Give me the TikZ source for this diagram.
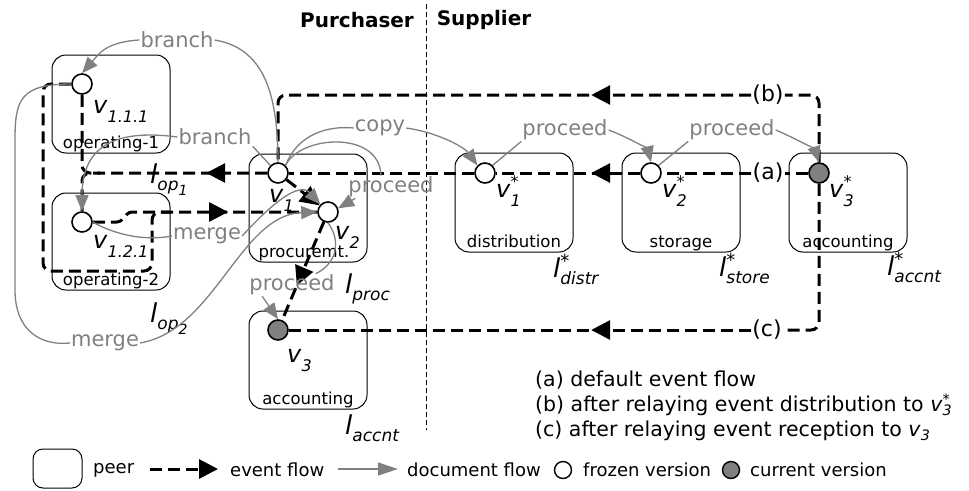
\documentclass[tikz,border=0pt]{standalone}
\usepackage{fontspec}
\setmainfont{DejaVu Sans}
\usetikzlibrary{arrows.meta,decorations.markings}

\newcommand{\scr}[2]{{\fontsize{#1}{#1}\selectfont\textit{#2}}}
\newcommand{\vlab}[3][16]{\textit{v}\rlap{\raisebox{0.4em}{\scr{#1}{#3}}}\raisebox{-0.38em}{\scr{#1}{#2}}}
\newcommand{\vnote}[2]{\textit{v}\rlap{\textsuperscript{\textit{#2}}}\textsubscript{\textit{#1}}}
\newcommand{\llab}[2]{\textit{l}\rlap{\raisebox{0.35em}{\scr{18}{#2}}}\raisebox{-0.3em}{\scr{17}{#1}}}

\begin{document}
\begin{tikzpicture}[x=1pt,y=-1pt,
 peer/.style={draw,rounded corners=14pt,line width=1pt,minimum width=118pt,minimum height=98pt},
 frozen/.style={circle,draw,fill=white,line width=1.6pt,minimum size=20pt,inner sep=0pt},
 current/.style={frozen,fill=gray},
 peerlab/.style={font=\fontsize{16.5}{16.5}\selectfont,inner sep=0pt,anchor=base},
 doclab/.style={text=gray,font=\fontsize{21}{21}\selectfont,inner sep=1pt},
 vlabel/.style={font=\fontsize{24}{24}\selectfont,inner sep=0pt,anchor=base west},
 llabel/.style={font=\fontsize{26}{26}\selectfont,inner sep=0pt,anchor=base west},
 flowlab/.style={font=\fontsize{22}{22}\selectfont,inner sep=1pt},
 notes/.style={font=\fontsize{20.5}{20.5}\selectfont,anchor=west,inner sep=0pt},
 legtext/.style={font=\fontsize{18}{18}\selectfont,anchor=west,inner sep=0pt},
 docline/.style={gray,line width=1.3pt},
 docflow/.style={docline,-{Triangle[length=16pt,width=13pt]}},
 evflow/.style={line width=3pt,dash pattern=on 12pt off 6pt,rounded corners=8pt},
 evtip/.tip={Triangle[length=19pt,width=19pt]},
 midtip/.style={postaction={decorate,decoration={markings,mark=at position #1 with {\arrow{evtip}}}}}]
\useasboundingbox (0,0) rectangle (969,490);
\node[font=\fontsize{20}{20}\selectfont\bfseries] (purch) at (357,20) {Purchaser};
\node[font=\fontsize{20}{20}\selectfont\bfseries] (supp) at (484,20) {Supplier};
\coordinate (dtop) at (426,4);
\coordinate (dbot) at (426,430);
\draw[line width=1pt,dash pattern=on 5pt off 3pt] (dtop) -- (dbot);

% peers
\node[peer] (op1) at (111,104) {};
\node[peer,minimum height=97pt] (op2) at (111,241.5) {};
\node[peer,minimum height=108pt] (proc) at (308,208) {};
\node[peer] (acc) at (308,360) {};
\node[peer,minimum height=99pt] (distr) at (514,202.5) {};
\node[peer,minimum height=99pt] (store) at (681,202.5) {};
\node[peer,minimum height=99pt] (accs) at (848,202.5) {};
\node[peerlab] (op1lab) at ([yshift=5pt]op1.south) {operating-1};
\node[peerlab] (op2lab) at ([yshift=5pt]op2.south) {operating-2};
\node[peerlab] (proclab) at ([xshift=-4pt,yshift=5pt]proc.south) {procuremt.};
\node[peerlab] (acclab) at ([yshift=5pt]acc.south) {accounting};
\node[peerlab] (distrlab) at ([yshift=5pt]distr.south) {distribution};
\node[peerlab] (storelab) at ([yshift=5pt]store.south) {storage};
\node[peerlab] (accslab) at ([yshift=5pt]accs.south) {accounting};
\node[llabel] (lop1) at (150,183) {\llab{op\raisebox{-0.3em}{\scr{14}{1}}}{}};
\node[llabel] (lop2) at (150,322) {\llab{op\raisebox{-0.3em}{\scr{14}{2}}}{}};
\node[llabel] (lproc) at (345,293) {\llab{proc}{}};
\node[llabel] (laccnt) at (345,434) {\llab{accnt}{}};
\node[llabel] (ldistr) at (553,277) {\llab{distr}{*}};
\node[llabel] (lstore) at (719,276) {\llab{store}{*}};
\node[llabel] (laccnts) at (887,275) {\llab{accnt}{*}};

% versions
\node[frozen] (v111) at (82,84) {};
\node[frozen] (v121) at (82,222) {};
\node[frozen] (v1) at (278,173) {};
\node[frozen] (v2) at (328,212) {};
\node[current] (v3) at (278,330) {};
\node[frozen] (v1s) at (485,173) {};
\node[frozen] (v2s) at (651,173) {};
\node[current] (v3s) at (819,173) {};
\node[vlabel] (v111t) at (93,113) {\vlab{1.1.1}{}};
\node[vlabel] (v121t) at (93,248) {\vlab{1.2.1}{}};
\node[vlabel] (v1t) at (269,202) {\vlab{1}{}};
\node[vlabel] (v2t) at (335,239) {\vlab{2}{}};
\node[vlabel] (v3t) at (287,362) {\vlab{3}{}};
\node[vlabel] (v1st) at (496,197) {\vlab{1}{*}};
\node[vlabel] (v2st) at (662,197) {\vlab{2}{*}};
\node[vlabel] (v3st) at (829,197) {\vlab{3}{*}};

% event flow
\node[flowlab] (la) at (768,173) {(a)};
\node[flowlab] (lb) at (768,95) {(b)};
\node[flowlab] (lc) at (767,330) {(c)};
\coordinate (ja) at (100,173);
\coordinate (j1) at (120,222);
\coordinate (j2) at (129,212);
\coordinate (j3) at (170,212);
\coordinate (lp1) at (43,271);
\coordinate (lp2) at (152,212);
\draw[evflow] (v3s.west) -- (la.east);
\draw[evflow] (la.west) -- (v2s.east);
\draw[evflow,midtip=49pt] (v2s.west) -- (v1s.east);
\draw[evflow] (v1s.west) -- (v1.east);
\draw[evflow,midtip=61pt] (v1.west) -| (v121.north);
\draw[evflow] (v111.south) |- (ja);
\draw[evflow] (v111.west) -| (lp1) -| (lp2) -- (j3);
\draw[evflow,rounded corners=3pt,midtip=139pt] (v121.east) -- (j1) -- (j2) -- (v2.west);
\draw[evflow] (v3s.north) |- (lb.east);
\draw[evflow,midtip=160pt] (lb.west) -| (v1.north);
\draw[evflow] (v3s.south) |- (lc.east);
\draw[evflow,midtip=160pt] (lc.west) -- (v3.east);
\draw[evflow,-{evtip}] (v1) -- (v2);
\draw[evflow,midtip=69pt] (v2) -- (v3);

% document flow
\node[doclab] (brA) at (177,40) {branch};
\node[doclab] (brB) at (215,137) {branch};
\node[doclab] (cp) at (380,128) {copy};
\node[doclab] (prA) at (391,187) {proceed};
\node[doclab] (prB) at (565,130) {proceed};
\node[doclab] (prC) at (732,130) {proceed};
\node[doclab] (mgA) at (207,236) {merge};
\node[doclab] (mgB) at (105,343) {merge};
\node[doclab] (prD) at (292,285) {proceed};
\draw[docline] (v1.north) .. controls (278,90) and (262,48) .. (brA.east);
\draw[docflow] (brA.west) .. controls (105,42) and (98,55) .. (v111.north);
\draw[docline] (v1.north west) -- (brB.south east);
\draw[docflow] (brB.west) .. controls (110,128) and (82,150) .. (v121.north);
\draw[docline] (v1.north east) .. controls (295,140) and (320,125) .. (cp.west);
\draw[docflow] (cp.east) .. controls (440,133) and (465,148) .. (v1s.north west);
\draw[docline] (v1.north east) .. controls (300,135) and (380,130) .. ([xshift=-10pt]prA.north);
\draw[docflow] ([xshift=8pt]prA.south west) -- (v2.20);
\draw[docline] (v1s.north east) -- (prB.south west);
\draw[docflow] (prB.east) .. controls (630,138) and (648,150) .. (v2s.north);
\draw[docline] (v2s.north east) -- (prC.south west);
\draw[docflow] (prC.east) .. controls (795,138) and (815,150) .. (v3s.north);
\draw[docline] (v121.east) .. controls (110,232) and (140,242) .. (mgA.west);
\draw[docflow] (mgA.east) .. controls (275,200) and (300,182) .. (v2.north west);
\draw[docline] (v111.west) .. controls (20,84) and (15,100) .. (15,140) -- (15,290)
 .. controls (15,330) and (40,346) .. (mgB.west);
\draw[docflow] (mgB.east) .. controls (215,330) and (240,215) .. (v2.west);
\draw[docline] (v2.south) .. controls (342,242) and (336,264) .. ([xshift=-20pt]prD.north east);
\draw[docflow] ([xshift=14pt]prD.south west) -- (v3.north);

% notes and legend
\node[notes] (na) at (535,380) {(a) default event flow};
\node[notes] (nb) at (535,405) {(b) after relaying event distribution to \vnote{3}{*}};
\node[notes] (nc) at (535,431) {(c) after relaying event reception to \vnote{3}{}};
\node[peer,minimum width=49pt,minimum height=39pt,rounded corners=10pt] (legpeer) at (57.5,468.5) {};
\node[legtext] (legpeert) at (93,470) {peer};
\coordinate (leg1) at (150,469);
\coordinate (leg2) at (218,469);
\draw[evflow,-{evtip}] (leg1) -- (leg2);
\node[legtext] (legev) at (230,470) {event flow};
\coordinate (leg3) at (338,469);
\coordinate (leg4) at (398,469);
\draw[docline,-{Triangle[length=20pt,width=13pt]}] (leg3) -- (leg4);
\node[legtext] (legdoc) at (407,470) {document flow};
\node[frozen,minimum size=17pt,line width=1.4pt] (legfro) at (563,470) {};
\node[legtext] (legfrot) at (583,470) {frozen version};
\node[current,minimum size=17pt,line width=1.4pt] (legcur) at (731,470) {};
\node[legtext] (legcurt) at (750,470) {current version};
\end{tikzpicture}
\end{document}
